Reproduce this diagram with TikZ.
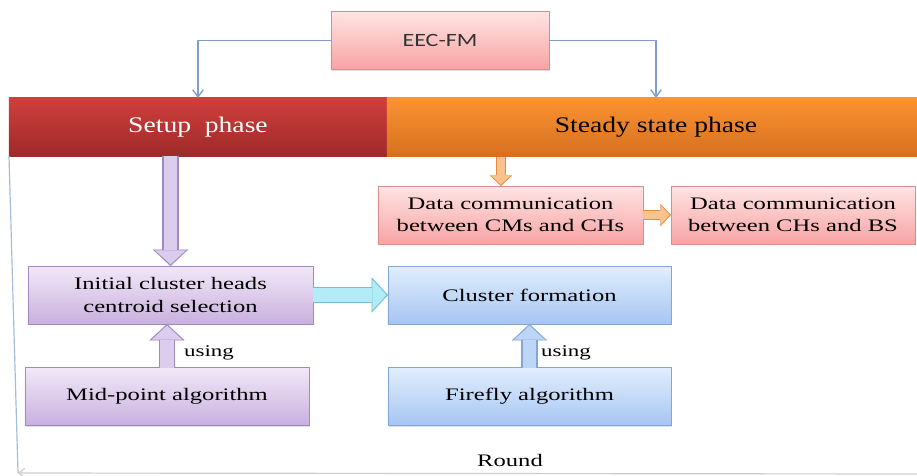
\documentclass[tikz,border=0pt]{standalone}
\usepackage{fontspec}
\setmainfont{Liberation Serif}
\newfontfamily\boxfont[FakeStretch=1.4]{Liberation Serif}
\newfontfamily\barfont[FakeStretch=1.24]{Liberation Serif}
\newfontfamily\eecfont[FakeStretch=1.28]{Carlito}
\usetikzlibrary{arrows.meta,shadows}

\definecolor{linkblue}{HTML}{7FA0CC}
\definecolor{pinktop}{HTML}{FFE4E4}
\definecolor{pinkbot}{HTML}{F7A3A3}
\definecolor{pinkedge}{HTML}{D98C8C}
\definecolor{redtop}{HTML}{D03F3C}
\definecolor{redbot}{HTML}{9E2A2A}
\definecolor{orangetop}{HTML}{FC9332}
\definecolor{orangebot}{HTML}{D5701E}
\definecolor{purtop}{HTML}{F1E8F8}
\definecolor{purbot}{HTML}{C9B0DE}
\definecolor{puredge}{HTML}{A08ABF}
\definecolor{bluetop}{HTML}{E1EEFD}
\definecolor{bluebot}{HTML}{A6C5F3}
\definecolor{blueedge}{HTML}{86A6D2}
\definecolor{arrpur}{HTML}{DCCDEE}
\definecolor{arrblue}{HTML}{BDD5F6}
\definecolor{arrcyan}{HTML}{B2ECF7}
\definecolor{cyanedge}{HTML}{74BFD4}
\definecolor{arrorange}{HTML}{FCC28E}
\definecolor{orangeedge}{HTML}{E48D3E}

\tikzset{
  box/.style={draw=#1, outer sep=0pt, inner sep=2pt, align=center,
    minimum height=1.74cm, font=\boxfont\fontsize{15}{19}\selectfont,
    drop shadow={shadow xshift=1.2pt, shadow yshift=-1.2pt, opacity=0.25}},
  pinkbox/.style={box=pinkedge, top color=pinktop, bottom color=pinkbot},
  purbox/.style={box=puredge, top color=purtop, bottom color=purbot},
  bluebox/.style={box=blueedge, top color=bluetop, bottom color=bluebot},
  bar/.style={outer sep=0pt, minimum height=1.74cm,
    font=\barfont\fontsize{19}{23}\selectfont},
  link/.style={draw=linkblue, line width=1.2pt, -{Straight Barb[length=6pt,width=9pt]}},
  bigedge/.style={draw=#1, line width=14pt,
    -{Triangle[length=14pt,width=30pt,line width=0.1pt]}},
  bigfill/.style={draw=#1, line width=11.6pt, shorten >=1.4pt,
    -{Triangle[length=12pt,width=26pt,line width=0.1pt]}},
  smalledge/.style={draw=#1, line width=8pt,
    -{Triangle[length=9pt,width=19pt,line width=0.1pt]}},
  smallfill/.style={draw=#1, line width=6pt, shorten >=1.2pt,
    -{Triangle[length=7.5pt,width=16pt,line width=0.1pt]}},
  loopline/.style={draw=#1, line width=1pt}
}

\begin{document}
\begin{tikzpicture}[x=0.03cm,y=-0.03cm]
\useasboundingbox (0,0) rectangle (917,476);

% top and phases
\node [pinkbox, minimum width=6.54cm, font=\eecfont\fontsize{16}{19}\selectfont,
  text=black!80] (eec) at (440,40.5) {EEC-FM};
\node [bar, minimum width=11.34cm, top color=redtop, bottom color=redbot,
  text=white] (setup) at (198,127) {Setup\ \ phase};
\node [bar, minimum width=16.14cm, top color=orangetop, bottom color=orangebot]
  (steady) at (656,127) {Steady state phase};
\draw [link] (eec.west) -| (setup.north);
\draw [link] (eec.east) -| (steady.north);

% steady state
\node [pinkbox, minimum width=7.95cm] (data1) at (510.5,215)
  {Data communication\\between CMs and CHs};
\node [pinkbox, minimum width=7.32cm] (data2) at (793,215)
  {Data communication\\between CHs and BS};
\coordinate (otop) at (501,157);
\draw [smalledge=orangeedge] (otop) -- (otop |- data1.north);
\draw [smallfill=arrorange] (otop) -- (otop |- data1.north);
\draw [smalledge=orangeedge] (data1.east) -- (data2.west);
\draw [smallfill=arrorange] (data1.east) -- (data2.west);

% setup
\node [purbox, minimum width=8.55cm] (init) at (170.5,295)
  {Initial cluster heads\\centroid selection};
\node [bluebox, minimum width=8.49cm] (cluster) at (529.5,295) {Cluster formation};
\node [purbox, minimum width=8.52cm] (mid) at (167,396.5) {Mid-point algorithm};
\node [bluebox, minimum width=8.49cm] (firefly) at (529.5,396.5) {Firefly algorithm};

\draw [bigedge=puredge] (init.north |- setup.south) -- (init.north);
\draw [bigfill=arrpur] (init.north |- setup.south) -- (init.north);
\draw [bigedge=cyanedge] (init.east) -- (cluster.west);
\draw [bigfill=arrcyan] (init.east) -- (cluster.west);
\draw [bigedge=puredge] (mid.north) -- (mid.north |- init.south);
\draw [bigfill=arrpur] (mid.north) -- (mid.north |- init.south);
\draw [bigedge=blueedge] (firefly.north) -- (cluster.south);
\draw [bigfill=arrblue] (firefly.north) -- (cluster.south);

\node [font=\boxfont\fontsize{14}{17}\selectfont] (using1) at (209,353) {using};
\node [font=\boxfont\fontsize{14}{17}\selectfont] (using2) at (566,353) {using};

% round loop
\node [font=\boxfont\fontsize{15}{18}\selectfont] (round) at (510,460) {Round};
\coordinate (roundleft) at (18,473);
\coordinate (roundright) at (917,474);
\draw [loopline=black!20, -{Straight Barb[length=5pt,width=8pt]}] (roundright) -- (roundleft);
\draw [loopline=linkblue!70] (setup.south west) -- (roundleft);
\end{tikzpicture}
\end{document}
